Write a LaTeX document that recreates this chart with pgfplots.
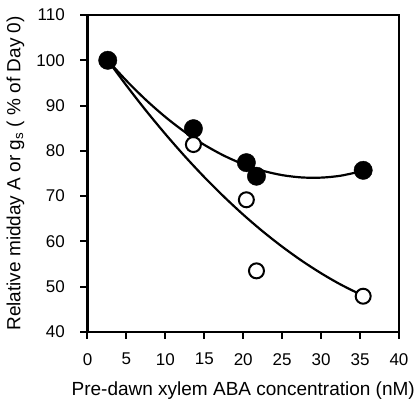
\documentclass[border=0pt]{standalone}
\usepackage{fontspec}
\setmainfont{Liberation Sans}
\usepackage{pgfplots}
\pgfplotsset{compat=1.18}
\begin{document}
\begin{tikzpicture}
\path[use as bounding box] (-87.5pt,-69pt) rectangle (330.5pt,332pt);
\begin{axis}[
  at={(0,0)}, anchor=south west,
  scale only axis, width=311.5pt, height=317pt,
  xmin=0, xmax=40, ymin=40, ymax=110,
  xtick={0,5,...,40}, ytick={40,50,...,110},
  xticklabels={\fontsize{17}{19}\selectfont 0,\fontsize{17}{19}\selectfont 5,\fontsize{17}{19}\selectfont 10,\fontsize{17}{19}\selectfont 15,\fontsize{17}{19}\selectfont 20,\fontsize{17}{19}\selectfont 25,\fontsize{17}{19}\selectfont 30,\fontsize{17}{19}\selectfont 35,\fontsize{17}{19}\selectfont 40},
  yticklabels={\fontsize{17}{19}\selectfont 40,\fontsize{17}{19}\selectfont 50,\fontsize{17}{19}\selectfont 60,\fontsize{17}{19}\selectfont 70,\fontsize{17}{19}\selectfont 80,\fontsize{17}{19}\selectfont 90,\fontsize{17}{19}\selectfont 100,\fontsize{17}{19}\selectfont 110},
  tick align=outside, tick pos=left,
  major tick length=7pt,
  every tick/.style={black, line width=2pt},
  axis line style={line width=2.5pt},
  xticklabel style={anchor=north, inner sep=0pt, yshift=-14pt},
  yticklabel style={anchor=east, inner sep=0pt, xshift=-15.5pt},
  xlabel={Pre-dawn xylem ABA concentration (nM)},
  ylabel={Relative midday A or g\textsubscript{s} ( \% of Day 0)},
  xlabel style={font=\fontsize{19}{21}\selectfont, at={(axis description cs:0.5,0)}, anchor=base, inner sep=0pt, yshift=-64pt},
  ylabel style={font=\fontsize{19}{21}\selectfont, at={(axis description cs:-0.2311,0.5)}, anchor=center, inner sep=0pt},
  clip=false,
]
\addplot[black, line width=2.2pt, smooth] coordinates {
(2.6,100.0) (5,95.49) (7.5,91.25) (10,87.48) (12.5,84.17) (15,81.33) (17.5,78.96)
(20,77.05) (22.5,75.61) (25,74.64) (27.5,74.13) (30,74.09) (32.5,74.51) (35.4,75.59)};
\addplot[black, line width=2.2pt, smooth] coordinates {
(2.6,100.0) (5,94.43) (7.5,88.91) (10,83.71) (12.5,78.80) (15,74.20) (17.5,69.91)
(20,65.91) (22.5,62.22) (25,58.84) (27.5,55.75) (30,52.97) (32.5,50.49) (35.4,48.00)};
\addplot[only marks, mark=*, mark size=7.5pt, mark options={draw=black, fill=white, line width=2pt}] coordinates {
(2.6,100) (13.6,81.4) (20.4,69.2) (21.7,53.5) (35.4,47.9)};
\addplot[only marks, mark=*, mark size=9.2pt, mark options={draw=black, fill=black}] coordinates {
(2.6,100) (13.6,84.9) (20.4,77.4) (21.7,74.4) (35.4,75.7)};
\end{axis}
\end{tikzpicture}
\end{document}
